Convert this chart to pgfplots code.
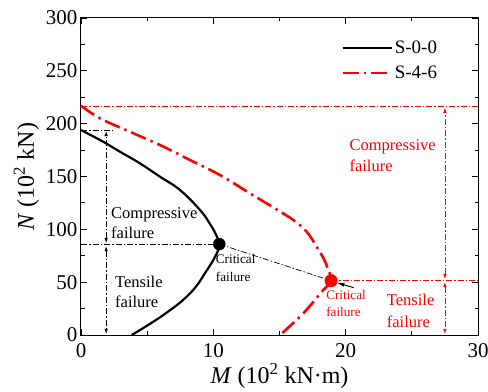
\documentclass[border=0pt]{standalone}
\usepackage{pgfplots}
\pgfplotsset{compat=1.18}
\usepackage{fontspec}
\setmainfont{Liberation Serif}
\usetikzlibrary{arrows.meta}
\begin{document}
\begin{tikzpicture}
\tikzset{
  thinbk/.style={black, line width=0.7pt, dash pattern=on 6pt off 2pt on 1.5pt off 2pt},
  thinrd/.style={red, line width=0.7pt, dash pattern=on 6pt off 2pt on 1.5pt off 2pt},
  arr/.style={{Latex[length=5pt,width=3.5pt]}-{Latex[length=5pt,width=3.5pt]}},
}
\begin{axis}[
  name=ax,
  width=397pt, height=317pt, scale only axis,
  xmin=0, xmax=30, ymin=0, ymax=300,
  xtick={0,10,20,30}, ytick={0,50,100,150,200,250,300},
  minor x tick num=1, minor y tick num=1,
  tick align=inside, major tick length=6pt, minor tick length=3.5pt,
  axis line style={line width=1pt}, tick style={line width=0.9pt, black},
  /pgf/number format/assume math mode=true,
  tick label style={font=\fontsize{21}{21}\selectfont},
  xticklabel style={yshift=-5pt},
  label style={font=\fontsize{24}{24}\selectfont},
  xlabel={\textit{M} (10\textsuperscript{2} kN·m)},
  ylabel={\textit{N} (10\textsuperscript{2} kN)},
  xlabel style={yshift=1pt},
  legend style={at={(0.655,0.935)}, anchor=north west, draw=none, fill=none,
    font=\fontsize{19}{19}\selectfont, row sep=7pt, inner sep=0pt},
  legend cell align=left,
  legend image code/.code={\draw[#1] (0pt,0pt) -- (49pt,0pt);},
  clip=false,
]
% S-0-0
\addplot[black, line width=2.2pt, smooth, tension=0.7] coordinates {
 (0,194) (1.81,182) (2.95,173.4) (4.46,162.4) (5.97,149.8) (7.48,137.2) (9.0,118.2)
 (9.75,105) (10.2,95) (10.45,86) (10.26,77.3) (9.5,61) (8.24,39.4) (6.22,18.9) (3.83,0)};
\addlegendentry{S-0-0}
% S-4-6
\addplot[red, line width=2.6pt, smooth, tension=0.6, dash pattern=on 16pt off 5pt on 2.5pt off 5pt] coordinates {
 (0,217) (1.44,205) (3.7,192.3) (5.97,179.8) (8.24,165.6) (10.5,151.4) (12.77,134)
 (14.66,119.8) (16.05,108.8) (17.06,97.7) (17.81,83.5) (18.35,72) (18.69,61.5) (18.9,51.4)
 (18.19,41) (16.8,20.5) (15.04,0)};
\addlegendentry{S-4-6}
% black guide lines
\addplot[thinbk, forget plot] coordinates {(0,194) (2.45,194)};
\addplot[thinbk, forget plot] coordinates {(0,85.5) (10.45,85.5)};
\addplot[thinbk, arr, forget plot] coordinates {(1.9,87) (1.9,193)};
\addplot[thinbk, arr, forget plot] coordinates {(1.9,84) (1.9,1)};
\addplot[thinbk, forget plot] coordinates {(10.45,86) (18.9,51.4)};
\addplot[black, line width=1pt, -{Latex[length=8pt,width=4pt]}, forget plot] coordinates {(20.6,44.8) (19.3,49.6)};
% red guide lines
\addplot[thinrd, forget plot] coordinates {(0,216) (30,216)};
\addplot[thinrd, forget plot] coordinates {(18.9,51.4) (30,51.4)};
\addplot[thinrd, arr, forget plot] coordinates {(27.5,53) (27.5,215)};
\addplot[thinrd, arr, forget plot] coordinates {(27.5,50) (27.5,1)};
% critical points
\addplot[black, only marks, mark=*, mark size=6pt, forget plot] coordinates {(10.45,86)};
\addplot[red, only marks, mark=*, mark size=6.3pt, forget plot] coordinates {(18.9,51.4)};
% texts
\tikzset{lbl/.style={anchor=west, inner sep=0pt, font=\fontsize{16.5}{18}\selectfont},
         sml/.style={anchor=west, inner sep=0pt, font=\fontsize{13.2}{15}\selectfont}}
\node[lbl] at (axis cs:2.27,113.5) {Compressive};
\node[lbl] at (axis cs:2.27,96.5) {failure};
\node[lbl] at (axis cs:2.57,50.5) {Tensile};
\node[lbl] at (axis cs:2.57,31.5) {failure};
\node[sml] at (axis cs:10.18,71.9) {Critical};
\node[sml] at (axis cs:10.18,54.9) {failure};
\node[sml, red] at (axis cs:18.52,37.8) {Critical};
\node[sml, red] at (axis cs:18.52,22) {failure};
\node[lbl, red] at (axis cs:23.1,33.1) {Tensile};
\node[lbl, red] at (axis cs:23.1,12.6) {failure};
\node[lbl, red] at (axis cs:20.28,178) {Compressive};
\node[lbl, red] at (axis cs:20.28,160) {failure};
\end{axis}
\pgfresetboundingbox
\path ([shift={(-81pt,-57pt)}]ax.south west) rectangle ([shift={(10pt,18pt)}]ax.north east);
\end{tikzpicture}
\end{document}
